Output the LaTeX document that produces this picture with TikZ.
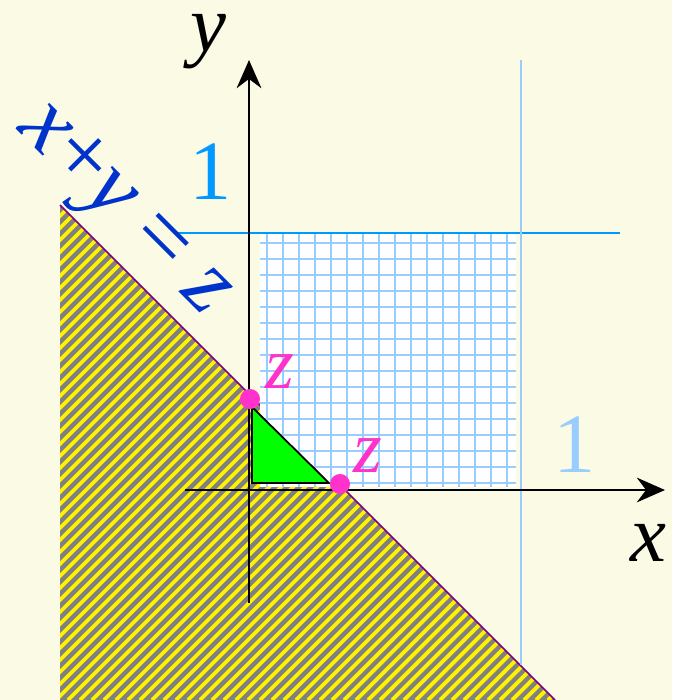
\documentclass[tikz,border=0pt]{standalone}
\usepackage{fontspec}
\setmainfont{Liberation Serif}
\usetikzlibrary{arrows.meta}
\definecolor{bg}{RGB}{251,251,229}
\definecolor{hatchgray}{RGB}{128,128,128}
\definecolor{linepurple}{RGB}{128,0,128}
\definecolor{gridblue}{RGB}{153,204,255}
\definecolor{oneblue}{RGB}{0,153,255}
\definecolor{labelblue}{RGB}{0,51,204}
\definecolor{dotpink}{RGB}{255,51,204}
\definecolor{trigreen}{RGB}{0,255,0}
\begin{document}
\begin{tikzpicture}[x=0.01cm,y=-0.01cm,
  axis/.style={line width=0.8pt,-{Stealth[length=8pt,width=7pt]}},
  gridline/.style={gridblue,line width=0.45pt},
  pinkdot/.style={circle,fill=dotpink,inner sep=0pt,minimum size=5.7pt},
  lab/.style={inner sep=0pt,font=\fontsize{23}{27}\selectfont\itshape},
  eqlab/.style={inner sep=0pt,font=\fontsize{26}{30}\selectfont\itshape},
  numlab/.style={inner sep=0pt,font=\fontsize{24}{28}\selectfont},
  zlab/.style={inner sep=0pt,text=dotpink,font=\fontsize{21}{25}\selectfont\itshape},
  ]
\fill[bg] (0,0) rectangle (672,700);
\useasboundingbox (0,0) rectangle (672,700);
% hatched half-plane
\coordinate (htop) at (60,205);
\coordinate (hbot) at (555,700);
\begin{scope}
\clip (htop) -- (hbot) -- (60,700) -- cycle;
\fill[hatchgray] (0,0) rectangle (672,700);
\foreach \c in {252,264,...,1272} \draw[yellow,line width=1.1pt] (\c-700,700) -- (\c,0);
\end{scope}
\draw[linepurple,line width=0.5pt] (htop) -- (hbot);
% grid square
\fill[white] (260,233) rectangle (516,487);
\foreach \i in {0,...,15} {
  \draw[gridline] (267+16*\i,233) -- (267+16*\i,487);
  \draw[gridline] (260,243+16*\i) -- (516,243+16*\i);
}
% green triangle
\draw[fill=trigreen,line width=0.5pt] (252,407) -- (252,483) -- (329,483) -- cycle;
% unit lines
\coordinate (hl) at (175,233);
\coordinate (hr) at (620,233);
\coordinate (vt) at (521,60);
\coordinate (vb) at (521,665);
\draw[oneblue,line width=0.45pt] (hl) -- (hr);
\draw[gridblue,line width=0.45pt] (vt) -- (vb);
% axes
\coordinate (yb) at (249,603);
\coordinate (yt) at (249,60);
\coordinate (xl) at (185,490);
\coordinate (xr) at (665,490);
\draw[axis] (yb) -- (yt);
\draw[axis] (xl) -- (xr);
% points
\node[pinkdot] (zy) at (250,399) {};
\node[pinkdot] (zx) at (340,484) {};
\node[zlab] (zyl) at (280,372) {z};
\node[zlab] (zxl) at (368,456) {z};
% labels
\node[lab] (ylab) at (208,42) {y};
\node[lab] (xlab) at (648,543) {x};
\node[numlab,text=oneblue] (one1) at (211,172) {1};
\node[numlab,text=gridblue] (one2) at (575,445) {1};
\node[eqlab,text=labelblue,rotate=-45] (eq) at (122,212) {x{\upshape +}y {\upshape =} z};
\end{tikzpicture}
\end{document}
